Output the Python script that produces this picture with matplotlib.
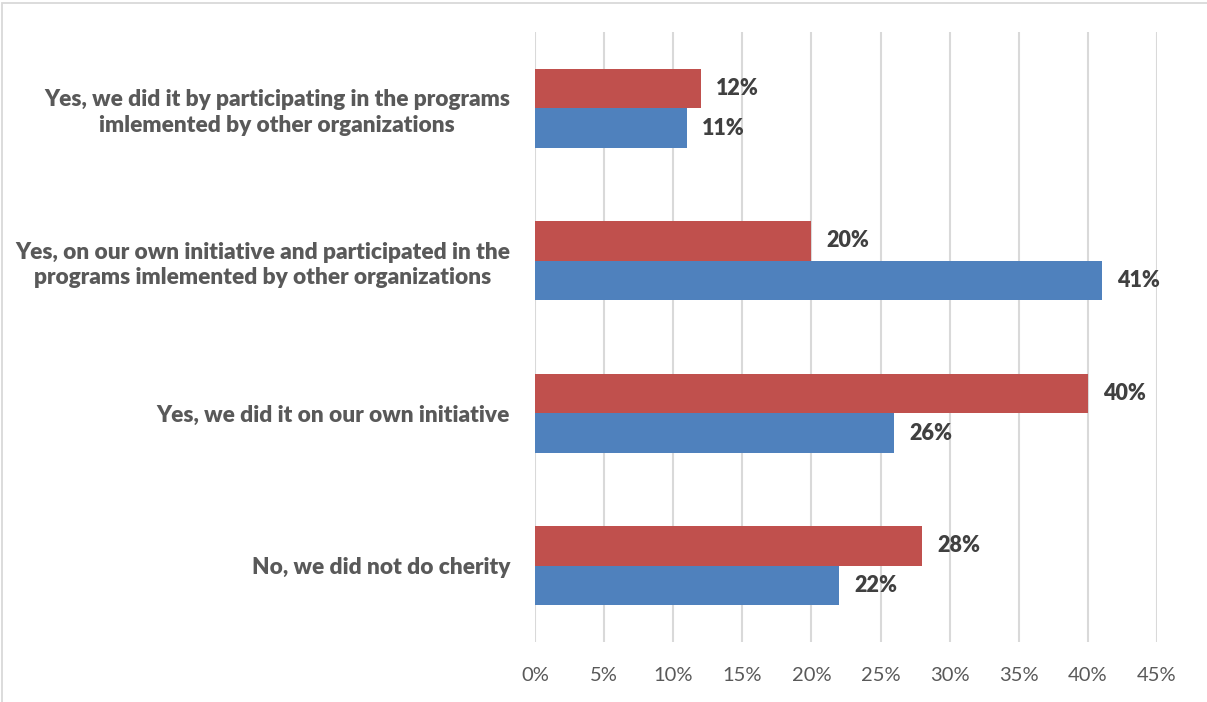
import matplotlib.pyplot as plt
import numpy as np
from matplotlib.patches import Rectangle

# Data
categories = [
    'No, we did not do cherity',
    'Yes, we did it on our own initiative',
    'Yes, on our own initiative and participated in the\nprograms imlemented by other organizations',
    'Yes, we did it by participating in the programs\nimlemented by other organizations',
]
red_values = [28, 40, 20, 12]
blue_values = [22, 26, 41, 11]
x_ticks = [0, 5, 10, 15, 20, 25, 30, 35, 40, 45]

plt.rcParams['font.family'] = ['Lato', 'DejaVu Sans']

fig = plt.figure(figsize=(12.07, 7.02), dpi=100)
ax = fig.add_axes([535 / 1207, 1 - 642 / 702, 622 / 1207, 610 / 702])

# light chart border
fig.patches.append(Rectangle((2 / 1207, -0.1), 1.2, 1 - 3 / 702 + 0.1,
                             transform=fig.transFigure, fill=False,
                             edgecolor='#D9D9D9', linewidth=1.3))

y = np.arange(len(categories))
h = 0.26
red_bars = ax.barh(y + h / 2, red_values, height=h, color='#C0504D', zorder=3)
blue_bars = ax.barh(y - h / 2, blue_values, height=h, color='#4F81BD', zorder=3)

for bars in (red_bars, blue_bars):
    for b in bars:
        w = b.get_width()
        ax.annotate(f'{w:.0f}%', xy=(w, b.get_y() + b.get_height() / 2),
                    xytext=(11, 0), textcoords='offset points',
                    ha='left', va='center', fontsize=15.5,
                    fontweight='heavy', color='#404040')

ax.set_xlim(0, 45)
ax.set_ylim(-0.5, 3.5)
ax.set_xticks(x_ticks)
ax.set_xticklabels([f'{t}%' for t in x_ticks], fontsize=14.5, color='#595959')
ax.set_yticks(y)
ax.set_yticklabels(categories, fontsize=16.3, fontweight='heavy',
                   color='#595959', multialignment='center', linespacing=1.25)
ax.tick_params(axis='both', length=0)
ax.tick_params(axis='y', pad=18)
ax.tick_params(axis='x', pad=18)

ax.grid(axis='x', color='#D9D9D9', linewidth=1.5, zorder=0)
for s in ax.spines.values():
    s.set_visible(False)

plt.savefig('out.png', dpi=100)
